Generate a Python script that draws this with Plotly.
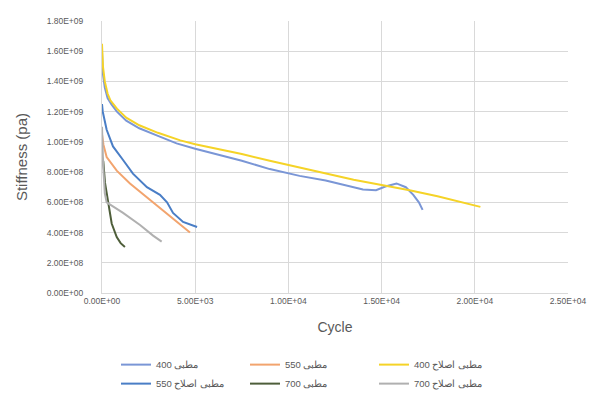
import plotly.graph_objects as go

# ---- data ----
x_400 = [0, 50, 150, 300, 500, 800, 1300, 2000, 3000, 4000, 5000, 6000, 7500, 9000, 10600, 12000, 13000, 14000, 14700, 15200, 15800, 16300, 16700, 17000, 17200]
y_400 = [1.60e9, 1.45e9, 1.36e9, 1.29e9, 1.25e9, 1.20e9, 1.14e9, 1.09e9, 1.04e9, 0.99e9, 0.955e9, 0.925e9, 0.875e9, 0.82e9, 0.775e9, 0.745e9, 0.715e9, 0.685e9, 0.68e9, 0.705e9, 0.725e9, 0.70e9, 0.65e9, 0.60e9, 0.55e9]

x_550 = [0, 80, 250, 790, 1500, 2400, 3270, 4180, 4720]
y_550 = [1.05e9, 0.98e9, 0.90e9, 0.81e9, 0.725e9, 0.635e9, 0.55e9, 0.46e9, 0.40e9]

x_m400 = [0, 50, 150, 300, 450, 800, 1300, 2000, 3000, 4200, 5000, 6000, 7500, 9000, 10600, 12000, 13500, 15000, 16500, 18000, 19500, 20300]
y_m400 = [1.65e9, 1.50e9, 1.40e9, 1.32e9, 1.275e9, 1.22e9, 1.16e9, 1.11e9, 1.06e9, 1.01e9, 0.985e9, 0.96e9, 0.92e9, 0.875e9, 0.83e9, 0.79e9, 0.75e9, 0.715e9, 0.68e9, 0.64e9, 0.595e9, 0.57e9]

x_m550 = [0, 40, 250, 590, 1130, 1660, 2410, 3110, 3490, 3810, 4350, 5100]
y_m550 = [1.25e9, 1.20e9, 1.08e9, 0.97e9, 0.88e9, 0.79e9, 0.70e9, 0.65e9, 0.60e9, 0.53e9, 0.47e9, 0.437e9]

x_700 = [0, 70, 160, 340, 520, 790, 1000, 1230]
y_700 = [0.90e9, 0.87e9, 0.73e9, 0.59e9, 0.46e9, 0.37e9, 0.33e9, 0.305e9]

x_m700 = [0, 60, 150, 250, 1130, 2040, 2740, 3200]
y_m700 = [1.10e9, 0.85e9, 0.66e9, 0.60e9, 0.53e9, 0.45e9, 0.38e9, 0.34e9]

names = ["400 مطبی", "550 مطبی", "400 مطبی اصلاح", "550 مطبی اصلاح", "700 مطبی", "700 مطبی اصلاح"]
colors = ["#7A96D6", "#F2A46E", "#F5D327", "#4A7EC6", "#4E5E3A", "#B0B0B0"]

x_ticks = [0, 5000, 10000, 15000, 20000, 25000]
x_tick_text = ["0.00E+00", "5.00E+03", "1.00E+04", "1.50E+04", "2.00E+04", "2.50E+04"]
y_ticks = [0, 2e8, 4e8, 6e8, 8e8, 1e9, 1.2e9, 1.4e9, 1.6e9, 1.8e9]
y_tick_text = ["0.00E+00", "2.00E+08", "4.00E+08", "6.00E+08", "8.00E+08", "1.00E+09", "1.20E+09", "1.40E+09", "1.60E+09", "1.80E+09"]

series = [(x_400, y_400), (x_550, y_550), (x_m400, y_m400), (x_m550, y_m550), (x_700, y_700), (x_m700, y_m700)]

fig = go.Figure()
for (xs, ys), n, c in zip(series, names, colors):
    fig.add_trace(go.Scatter(x=xs, y=ys, mode="lines", name=n,
                             line=dict(color=c, width=2)))

font = "Liberation Sans, Arial, sans-serif"
fig.update_layout(
    width=592, height=403,
    margin=dict(l=102, r=24, t=21, b=110, autoexpand=False),
    paper_bgcolor="white", plot_bgcolor="white",
    font=dict(family=font, color="#595959", size=8),
    showlegend=True,
    legend=dict(orientation="h", x=0.03, xanchor="left", y=-0.21, yanchor="top",
                entrywidth=84, entrywidthmode="pixels",
                font=dict(size=9.5, color="#595959"), itemwidth=30,
                tracegroupgap=0, traceorder="normal"),
)
fig.update_xaxes(range=[0, 25000], tickvals=x_ticks, ticktext=x_tick_text,
                 showgrid=True, gridcolor="#D9D9D9", gridwidth=1,
                 showline=True, linecolor="#D9D9D9", linewidth=1,
                 zeroline=False, ticks="", tickfont=dict(size=8.5, color="#595959"),
                 automargin=False,
                 title=dict(text="Cycle", font=dict(size=14, color="#595959"), standoff=16))
fig.update_yaxes(range=[0, 1.8e9], tickvals=y_ticks, ticktext=y_tick_text,
                 showgrid=True, gridcolor="#D9D9D9", gridwidth=1,
                 showline=True, linecolor="#D9D9D9", linewidth=1,
                 zeroline=False, ticks="", tickfont=dict(size=8.5, color="#595959"),
                 ticklabelstandoff=16, automargin=False,
                 title=dict(text="Stiffness (pa)", font=dict(size=15, color="#595959"), standoff=15))

fig.write_html("out.html")
